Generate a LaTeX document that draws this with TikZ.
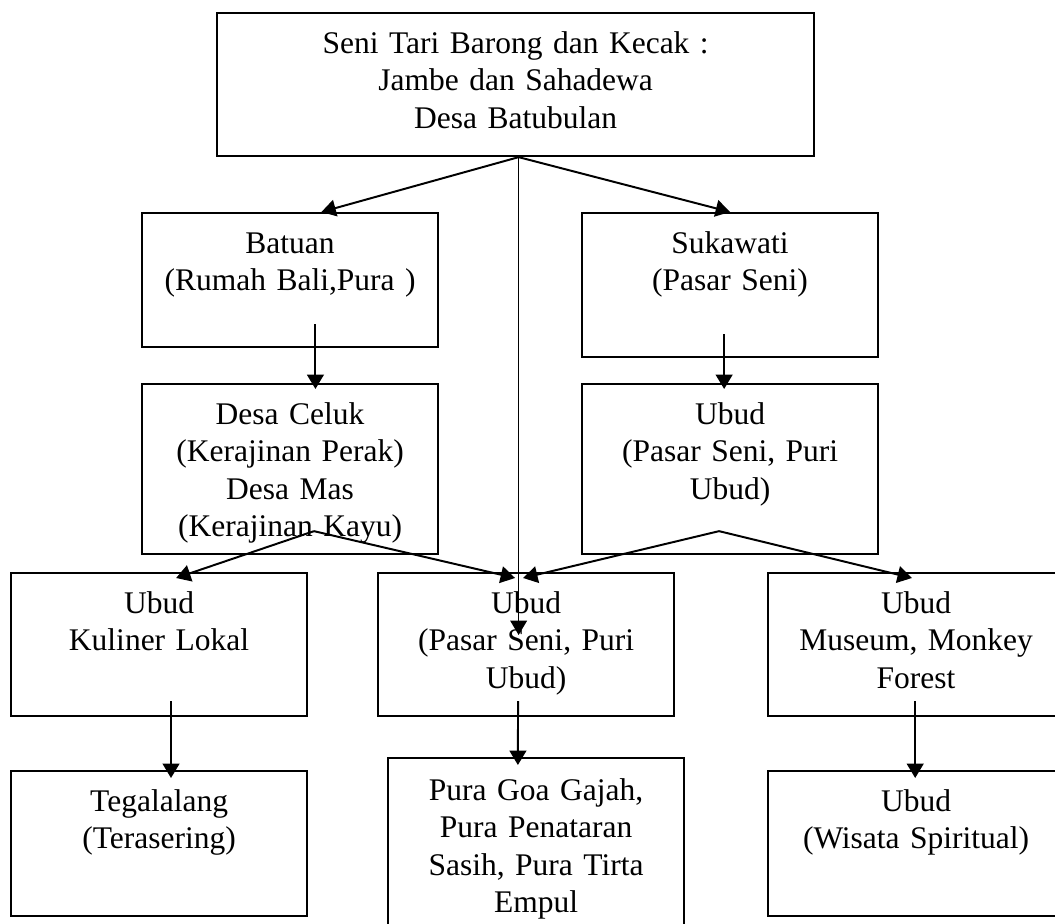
\documentclass[tikz,border=0pt]{standalone}
\usepackage{fontspec}
\setmainfont{Liberation Serif}
\usetikzlibrary{arrows.meta, calc, positioning}
\newcommand{\boxfont}{\fontsize{22.4pt}{26.7pt}\selectfont}
\tikzset{
  box/.style     = {draw, line width=1.5pt, anchor=north west, inner sep=0pt,
                    align=center, text width=7.4cm, text height=1cm, font=\boxfont},
  arr/.style     = {-{Triangle[length=3.6mm, width=4.2mm]}, line width=1.4pt},
  longarr/.style = {-{Triangle[length=3.6mm, width=4.2mm]}, line width=0.9pt},
}

\begin{document}
\begin{tikzpicture}[x=0.025cm, y=-0.025cm]
  \useasboundingbox (0,0) rectangle (1055,924);
  \clip (0,0) rectangle (1055,924);

  % boxes
  \node[box, text width=14.925cm, text depth=2.575cm] (top) at (216,12)
    {Seni Tari Barong dan Kecak :\\Jambe dan Sahadewa\\Desa Batubulan};
  \node[box, text depth=2.35cm]  (batuan)   at (141,212) {Batuan\\(Rumah Bali,Pura )};
  \node[box, text depth=2.6cm]   (sukawati) at (581,212) {Sukawati\\(Pasar Seni)};
  \node[box, text depth=3.25cm]  (celuk)    at (141,383)
    {Desa Celuk\\(Kerajinan Perak)\\Desa Mas\\(Kerajinan Kayu)};
  \node[box, text depth=3.25cm]  (ubudA)    at (581,383) {Ubud\\(Pasar Seni, Puri\\Ubud)};
  \node[box, text depth=2.575cm] (ubudB)    at (10,572)  {Ubud\\Kuliner Lokal};
  \node[box, text depth=2.575cm] (ubudC)    at (377,572) {Ubud\\(Pasar Seni, Puri\\Ubud)};
  \node[box, text depth=2.575cm] (ubudD)    at (767,572) {Ubud\\Museum, Monkey\\Forest};
  \node[box, text depth=2.625cm] (tegal)    at (10,770)  {Tegalalang\\(Terasering)};
  \node[box, text height=1.05cm, text depth=3.5cm] (pura) at (387,757)
    {Pura Goa Gajah,\\Pura Penataran\\Sasih, Pura Tirta\\Empul};
  \node[box, text depth=2.625cm] (ubudE)    at (767,770) {Ubud\\(Wisata Spiritual)};

  % connectors
  \coordinate (fan) at ($(top.south west)!0.505!(top.south east)$);
  \coordinate (mid) at ($(ubudC.north)+(0,63)$);
  \draw[arr] (fan) -- ($(batuan.north west)!0.605!(batuan.north east)$);
  \draw[arr] (fan) -- (sukawati.north);
  \draw[longarr] (fan) -- (fan |- mid);

  \draw[arr] ($(batuan.south west)!0.585!(batuan.south east)+(0,-24)$)
    -- ($(celuk.north west)!0.585!(celuk.north east)+(0,6)$);
  \draw[arr] ($(sukawati.south west)!0.48!(sukawati.south east)+(0,-24)$)
    -- ($(ubudA.north west)!0.48!(ubudA.north east)+(0,6)$);

  \coordinate (fanL) at ($(celuk.south west)!0.58!(celuk.south east)+(0,-24)$);
  \draw[arr] (fanL) -- ($(ubudB.north west)!0.557!(ubudB.north east)+(0,6)$);
  \draw[arr] (fanL) -- ($(ubudC.north west)!0.463!(ubudC.north east)+(0,6)$);
  \coordinate (fanR) at ($(ubudA.south west)!0.463!(ubudA.south east)+(0,-24)$);
  \draw[arr] (fanR) -- ($(ubudC.north west)!0.49!(ubudC.north east)+(0,6)$);
  \draw[arr] (fanR) -- ($(ubudD.north west)!0.486!(ubudD.north east)+(0,6)$);

  \draw[arr] ($(ubudB.south west)!0.54!(ubudB.south east)+(0,-16)$)
    -- ($(tegal.north west)!0.54!(tegal.north east)+(0,8)$);
  \draw[arr] ($(ubudC.south west)!0.473!(ubudC.south east)+(0,-16)$)
    -- ($(pura.north west)!0.439!(pura.north east)+(0,8)$);
  \draw[arr] ($(ubudD.south west)!0.497!(ubudD.south east)+(0,-16)$)
    -- ($(ubudE.north west)!0.497!(ubudE.north east)+(0,8)$);
\end{tikzpicture}
\end{document}
